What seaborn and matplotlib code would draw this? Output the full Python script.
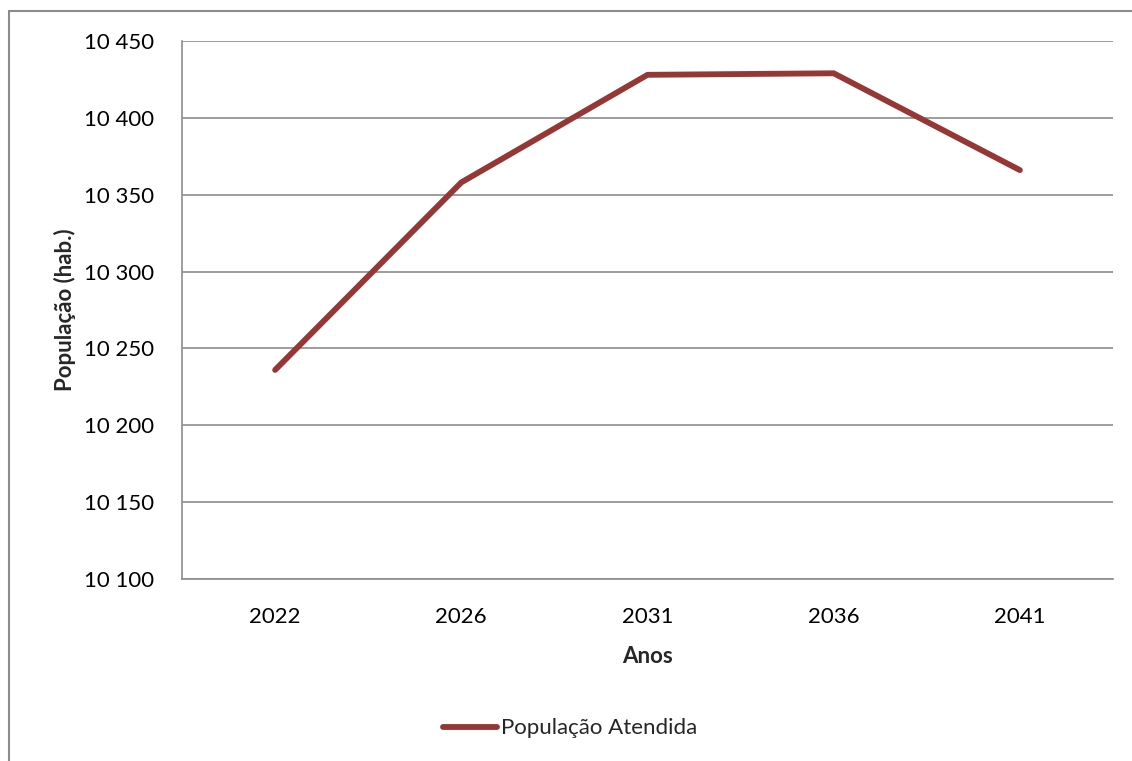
import matplotlib
matplotlib.use("Agg")
import matplotlib.pyplot as plt
import pandas as pd
import seaborn as sns
from matplotlib.patches import Rectangle
from matplotlib.ticker import FuncFormatter, MultipleLocator

anos = ["2022", "2026", "2031", "2036", "2041"]
populacao = [10236, 10358, 10428, 10429, 10366]
serie = "População Atendida"

df = pd.DataFrame({"Anos": anos, "Populacao": populacao})

sns.set_style("white")
plt.rcParams["font.family"] = ["Lato", "DejaVu Sans"]

fig = plt.figure(figsize=(11.32, 7.61), dpi=100)
ax = fig.add_axes([182 / 1132, 1 - 579 / 761, (1113 - 182) / 1132, (579 - 41) / 761])

sns.lineplot(data=df, x="Anos", y="Populacao", ax=ax, color="#953735",
             linewidth=4.2, solid_capstyle="round", solid_joinstyle="miter",
             label=serie, sort=False)

ax.set_xlim(-0.5, len(anos) - 0.5)
ax.set_ylim(10100, 10450)
ax.yaxis.set_major_locator(MultipleLocator(50))
ax.yaxis.set_major_formatter(FuncFormatter(lambda v, _: f"{int(v):,}".replace(",", " ")))
ax.grid(axis="y", color="#8c8c8c", linewidth=1.2)
ax.set_axisbelow(True)
for side in ["top", "right"]:
    ax.spines[side].set_visible(False)
for side in ["left", "bottom"]:
    ax.spines[side].set_color("#8c8c8c")
    ax.spines[side].set_linewidth(1.2)
ax.tick_params(axis="both", labelsize=16, length=0, colors="black")
ax.tick_params(axis="y", pad=20)
ax.tick_params(axis="x", pad=20)

ax.set_xlabel("Anos", fontsize=16, fontweight="bold", labelpad=14)
ax.set_ylabel("População (hab.)", fontsize=16, fontweight="bold", labelpad=6)

ax.legend(loc="upper center", bbox_to_anchor=(0.417, -0.222), frameon=False,
          fontsize=16, handlelength=2.4, handletextpad=0.2)

fig.patches.append(Rectangle((9 / 1132, -0.05), 1.1, 1 - 11 / 761 + 0.05,
                             transform=fig.transFigure, fill=False,
                             edgecolor="#8c8c8c", linewidth=1.5))

fig.savefig("out.png", dpi=100)
